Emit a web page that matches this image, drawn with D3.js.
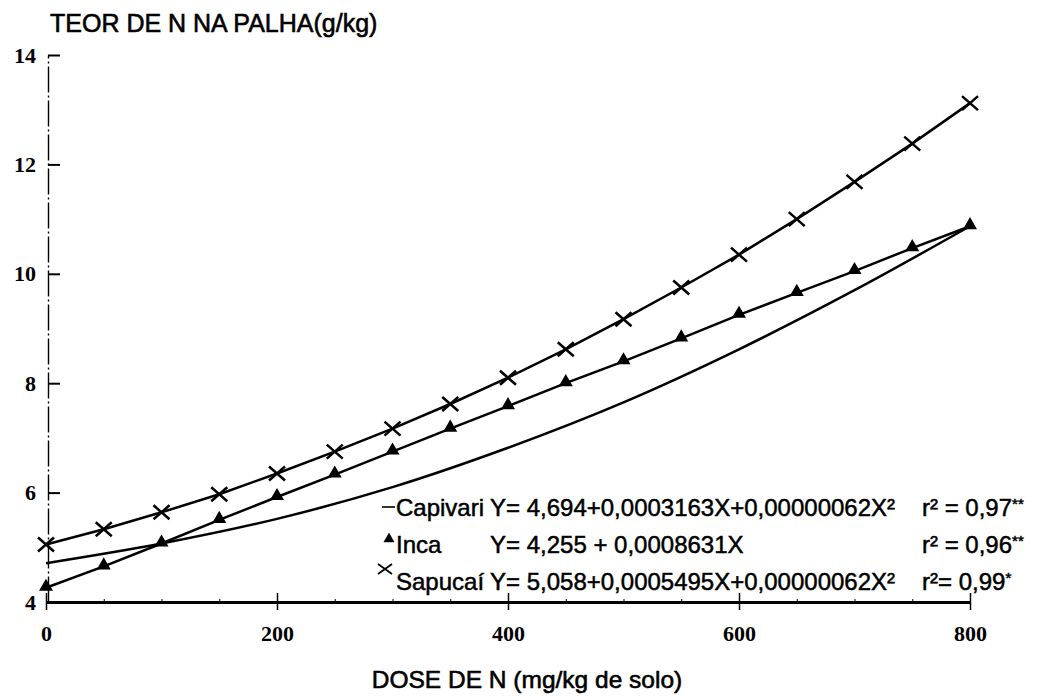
<!DOCTYPE html>
<html>
<head>
<meta charset="utf-8">
<script src="https://cdn.jsdelivr.net/npm/d3@7"></script>
<style>
  body { margin: 0; background: #fff; }
  svg text { fill: #000; }
</style>
</head>
<body>
<div id="chart"></div>
<script>
const FRAME_WIDTH = 1040;
const FRAME_HEIGHT = 696;

// values
const DOSES = [0, 50, 100, 150, 200, 250, 300, 350, 400, 450, 500, 550, 600, 650, 700, 750, 800];
const SAPUCAI = [5.05, 5.33, 5.64, 5.97, 6.35, 6.75, 7.17, 7.62, 8.1, 8.62, 9.17, 9.75, 10.35, 11.0, 11.68, 12.38, 13.12];
const INCA = [4.26, 4.65, 5.07, 5.5, 5.92, 6.33, 6.75, 7.17, 7.58, 8.0, 8.4, 8.82, 9.25, 9.65, 10.05, 10.47, 10.87];
const CAPIVARI_DOSES = [0, 100, 200, 300, 400, 500, 600, 700, 800];
const CAPIVARI = [4.71, 5.07, 5.52, 6.1, 6.82, 7.65, 8.62, 9.7, 10.87];

const X_TICKS = [0, 200, 400, 600, 800];
const X_MINOR = [50, 100, 150, 250, 300, 350, 450, 500, 550, 650, 700, 750];
const Y_TICKS = [4, 6, 8, 10, 12, 14];

const LEGEND_NAMES = ["Capivari", "Inca", "Sapucaí"];
const LEGEND_EQS = ["Y= 4,694+0,0003163X+0,00000062X²", "Y= 4,255 + 0,0008631X", "Y= 5,058+0,0005495X+0,00000062X²"];
const LEGEND_R2 = ["0,97", "0,96", "0,99"];
const LEGEND_STARS = ["**", "**", "*"];
const LEGEND_R2_SPACE = [" = ", " = ", "= "];

const X_SCALE = d3.scaleLinear().domain([0, 800]).range([46, 970]);
const Y_SCALE = d3.scaleLinear().domain([4, 14]).range([602, 55]);

const SANS = "'Liberation Sans', Arial, sans-serif";
const SERIF = "'Liberation Serif', 'Times New Roman', serif";

const FRAME = d3.select("#chart")
  .append("svg")
  .attr("width", FRAME_WIDTH)
  .attr("height", FRAME_HEIGHT);

// y axis, ticks pointing inside (scanned axis looks broken)
const yAxis = FRAME.append("g")
  .attr("transform", `translate(${X_SCALE(0) + 2},0)`)
  .call(d3.axisLeft(Y_SCALE).tickValues(Y_TICKS).tickSizeInner(-12).tickSizeOuter(0).tickPadding(12));
yAxis.select(".domain").attr("stroke-width", 1.4).attr("stroke-dasharray", "26 3 2 3");
yAxis.selectAll(".tick line").attr("stroke-width", 2);
yAxis.selectAll(".tick text")
  .attr("font-family", SERIF)
  .attr("font-weight", "bold")
  .attr("font-size", 22);
yAxis.selectAll(".tick").filter((d) => d === 4).select("line").remove();

// x axis
const xAxis = FRAME.append("g")
  .attr("transform", `translate(0,${Y_SCALE(4)})`)
  .call(d3.axisBottom(X_SCALE).tickValues(X_TICKS).tickSizeInner(8).tickSizeOuter(0).tickPadding(15));
xAxis.select(".domain").attr("stroke-width", 3);
xAxis.selectAll(".tick line").attr("y1", -9).attr("stroke-width", 1.5);
xAxis.selectAll(".tick text")
  .attr("font-family", SERIF)
  .attr("font-weight", "bold")
  .attr("font-size", 22);

FRAME.append("g")
  .attr("transform", `translate(0,${Y_SCALE(4)})`)
  .call(d3.axisTop(X_SCALE).tickValues(X_MINOR).tickSize(3).tickFormat(""))
  .call((g) => g.select(".domain").remove())
  .selectAll(".tick line").attr("stroke-width", 1);

// lines
const line = d3.line()
  .x((d) => X_SCALE(d[0]))
  .y((d) => Y_SCALE(d[1]));

FRAME.append("path")
  .datum(CAPIVARI_DOSES.map((x, i) => [x, CAPIVARI[i]]))
  .attr("fill", "none")
  .attr("stroke", "#000")
  .attr("stroke-width", 2.5)
  .attr("d", line.curve(d3.curveMonotoneX));

line.curve(d3.curveLinear);

FRAME.append("path")
  .datum(DOSES.map((x, i) => [x, INCA[i]]))
  .attr("fill", "none")
  .attr("stroke", "#000")
  .attr("stroke-width", 2.5)
  .attr("d", line);

FRAME.append("path")
  .datum(DOSES.map((x, i) => [x, SAPUCAI[i]]))
  .attr("fill", "none")
  .attr("stroke", "#000")
  .attr("stroke-width", 2.5)
  .attr("d", line);

// markers
FRAME.selectAll(".tri")
  .data(DOSES.map((x, i) => [x, INCA[i]]))
  .enter()
  .append("path")
  .attr("class", "tri")
  .attr("transform", (d) => `translate(${X_SCALE(d[0])},${Y_SCALE(d[1]) - 1})`)
  .attr("d", d3.symbol(d3.symbolTriangle).size(85))
  .attr("fill", "#000");

const CROSS = "M-8,-7L8,7M-8,7L8,-7";
FRAME.selectAll(".cross")
  .data(DOSES.map((x, i) => [x, SAPUCAI[i]]))
  .enter()
  .append("path")
  .attr("class", "cross")
  .attr("transform", (d) => `translate(${X_SCALE(d[0])},${Y_SCALE(d[1])})`)
  .attr("d", CROSS)
  .attr("stroke", "#000")
  .attr("stroke-width", 2.5);

// titles
FRAME.append("text")
  .attr("x", 50)
  .attr("y", 32)
  .attr("font-family", SANS)
  .attr("font-size", 25)
  .attr("stroke", "#000")
  .attr("stroke-width", 0.6)
  .text("TEOR DE N NA PALHA(g/kg)");

FRAME.append("text")
  .attr("x", 527)
  .attr("y", 688)
  .attr("text-anchor", "middle")
  .attr("font-family", SANS)
  .attr("font-size", 24.5)
  .attr("stroke", "#000")
  .attr("stroke-width", 0.6)
  .text("DOSE DE N (mg/kg de solo)");

// legend
const LEG_X = 396;
const LEG_EQ_X = 490;
const LEG_R_X = 922;
const LEG_Y = [516, 553, 590];

const legend = FRAME.append("g")
  .attr("font-family", SANS)
  .attr("font-size", 24)
  .attr("stroke", "#000")
  .attr("stroke-width", 0.5);

LEGEND_NAMES.forEach((name, i) => {
  const y = LEG_Y[i];
  legend.append("text").attr("x", LEG_X).attr("y", y).text(name);
  legend.append("text").attr("x", LEG_EQ_X).attr("y", y).text(LEGEND_EQS[i]);
  const r = legend.append("text").attr("x", LEG_R_X).attr("y", y);
  r.append("tspan").text("r²");
  r.append("tspan").text(LEGEND_R2_SPACE[i] + LEGEND_R2[i]);
  r.append("tspan").attr("font-size", 15).attr("dy", -7).text(LEGEND_STARS[i]);
});

// legend symbols
legend.append("line")
  .attr("x1", 382).attr("x2", 395)
  .attr("y1", LEG_Y[0] - 9).attr("y2", LEG_Y[0] - 9)
  .attr("stroke-width", 1.6);
legend.append("path")
  .attr("transform", `translate(389,${LEG_Y[1] - 14})`)
  .attr("d", d3.symbol(d3.symbolTriangle).size(45))
  .attr("fill", "#000");
legend.append("path")
  .attr("transform", `translate(385,${LEG_Y[2] - 21})`)
  .attr("d", "M-7,-5L7,5M-7,5L7,-5")
  .attr("stroke-width", 1.8);
</script>
</body>
</html>
